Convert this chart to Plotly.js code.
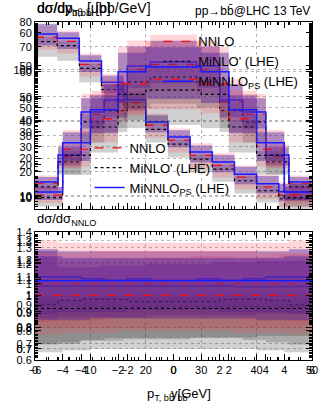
<!DOCTYPE html>
<html><head><meta charset="utf-8">
<script src="https://cdn.plot.ly/plotly-3.0.1.min.js"></script>
<style>html,body{margin:0;padding:0;background:#fff}#chart{width:324px;height:406px}</style>
</head><body><div id="chart"></div>
<script>
// ---------- data ----------
// plot 1: transverse momentum of the b-bbar pair
const ptEdges = [0,4,8,12,16,20,24,28,32,36,40,44,50];
const ptNNLO   = [182,169,111,75.5,54.7,36.4,27.7,21.0,17.5,14.1,11.8,10.2];
const ptMiNLO  = [168,156,103,70.0,50.8,33.8,25.8,19.6,16.3,13.2,11.0,9.5];
const ptMiNNLO = [193,179,118,80.0,58.0,38.6,29.4,22.3,18.6,14.9,12.5,10.8];
const ptNNLOLo   = [0.80,0.80,0.80,0.80,0.80,0.80,0.80,0.80,0.80,0.80,0.80,0.80];
const ptNNLOHi   = [1.24,1.22,1.22,1.23,1.23,1.24,1.24,1.25,1.25,1.24,1.24,1.26];
const ptMiNLOLo  = [0.70,0.70,0.72,0.72,0.73,0.73,0.73,0.74,0.74,0.74,0.75,0.75];
const ptMiNLOHi  = [1.00,1.00,1.00,1.00,1.01,1.01,1.01,1.01,1.01,1.02,1.02,1.02];
const ptMiNNLOLo = [0.86,0.87,0.87,0.87,0.87,0.88,0.88,0.88,0.88,0.88,0.89,0.89];
const ptMiNNLOHi = [1.28,1.18,1.18,1.19,1.19,1.20,1.20,1.20,1.21,1.21,1.22,1.22];

// plot 2: rapidity of the b-bbar pair (|y| < 6)
const yEdges = [-6,-5,-4,-3,-2,-1,0,1,2,3,4,5,6];
const yNNLO   = [15.5,26.0,43.0,48.0,61.0,63.0,63.0,61.0,48.0,43.0,26.0,15.5];
const yMiNLO  = [14.0,24.0,40.0,44.5,56.0,58.0,58.0,56.0,44.5,40.0,24.0,14.0];
const yMiNNLO = [16.0,26.8,44.0,48.8,62.4,64.0,64.0,62.4,48.8,44.0,26.8,16.0];
const yNNLOLo   = [0.82,0.83,0.83,0.84,0.84,0.84,0.84,0.84,0.84,0.83,0.83,0.82];
const yNNLOHi   = [1.20,1.19,1.19,1.19,1.19,1.19,1.19,1.19,1.19,1.19,1.19,1.20];
const yMiNLOLo  = [0.72,0.73,0.74,0.75,0.75,0.75,0.75,0.75,0.75,0.74,0.73,0.72];
const yMiNLOHi  = [1.00,1.00,1.00,1.00,1.00,1.00,1.00,1.00,1.00,1.00,1.00,1.00];
const yMiNNLOLo = [0.86,0.87,0.87,0.87,0.88,0.88,0.88,0.88,0.87,0.87,0.87,0.86];
const yMiNNLOHi = [1.16,1.15,1.15,1.15,1.15,1.15,1.15,1.15,1.15,1.15,1.15,1.16];

// plot 3: rapidity of the b-bbar pair (|y| < 5)
const y5Edges = [-5,-4,-3,-2,-1,0,1,2,3,4,5];
const y5NNLO   = [10.9,24.7,34.0,44.6,46.0,46.0,44.6,34.0,24.7,10.9];
const y5MiNLO  = [10.1,22.9,31.5,41.4,42.7,42.7,41.4,31.5,22.9,10.1];
const y5MiNNLO = [11.8,26.7,36.7,48.2,49.7,49.7,48.2,36.7,26.7,11.8];
const y5NNLOLo   = [0.78,0.79,0.79,0.80,0.80,0.80,0.80,0.79,0.79,0.78];
const y5NNLOHi   = [1.24,1.24,1.25,1.25,1.25,1.25,1.25,1.25,1.24,1.24];
const y5MiNLOLo  = [0.68,0.69,0.70,0.70,0.70,0.70,0.70,0.70,0.69,0.68];
const y5MiNLOHi  = [0.98,0.98,0.99,0.99,0.99,0.99,0.99,0.99,0.98,0.98];
const y5MiNNLOLo = [0.86,0.86,0.87,0.87,0.87,0.87,0.87,0.87,0.86,0.86];
const y5MiNNLOHi = [1.22,1.21,1.21,1.21,1.21,1.21,1.21,1.21,1.21,1.22];

const logTicks = [10,20,30,40,50,100];
const seriesNames = ['NNLO', "MiNLO' (LHE)", 'MiNNLO<sub>PS</sub> (LHE)'];

// ---------- helpers ----------
function step(edges, vals){
  const x=[], y=[];
  for(let i=0;i<vals.length;i++){ x.push(edges[i],edges[i+1]); y.push(vals[i],vals[i]); }
  return {x,y};
}
function bandPoly(edges, lo, hi){
  const u=step(edges,hi), l=step(edges,lo);
  return {x:u.x.concat(l.x.slice().reverse()), y:u.y.concat(l.y.slice().reverse())};
}
const mul=(a,b)=>a.map((v,i)=>v*b[i]);
const div=(a,b)=>a.map((v,i)=>v/b[i]);

const colNNLO='rgba(255,70,80,0.22)';
const colMiNLO='rgba(40,40,40,0.22)';
const colMiNNLO='rgba(70,30,160,0.42)';

function addPlot(traces, d, xt, yt, xb, yb, legendId){
  const bands=[[d.minloLo,d.minloHi,colMiNLO],[d.nnloLo,d.nnloHi,colNNLO],[d.minnloLo,d.minnloHi,colMiNNLO]];
  for(const [lo,hi,col] of bands){
    const p=bandPoly(d.edges, mul(d.nnlo,lo), mul(d.nnlo,hi));
    traces.push({x:p.x,y:p.y,xaxis:xt,yaxis:yt,fill:'toself',fillcolor:col,line:{width:0},mode:'lines',hoverinfo:'skip',showlegend:false});
    const pr=bandPoly(d.edges, lo, hi);
    traces.push({x:pr.x,y:pr.y,xaxis:xb,yaxis:yb,fill:'toself',fillcolor:col,line:{width:0},mode:'lines',hoverinfo:'skip',showlegend:false});
  }
  const lines=[[d.nnlo,{color:'#ee1111',width:1.3,dash:'dash'}],[d.minlo,{color:'#000',width:1.2,dash:'dot'}],[d.minnlo,{color:'#1a1aff',width:1.5}]];
  lines.forEach(([v,ln],k)=>{
    const s=step(d.edges,v);
    const tr={x:s.x,y:s.y,xaxis:xt,yaxis:yt,mode:'lines',line:ln,name:seriesNames[k],showlegend:!!legendId};
    if(legendId) tr.legend=legendId;
    traces.push(tr);
    const r=step(d.edges,div(v,d.nnlo));
    traces.push({x:r.x,y:r.y,xaxis:xb,yaxis:yb,mode:'lines',line:ln,showlegend:false});
  });
}

const traces=[];
addPlot(traces,{edges:ptEdges,nnlo:ptNNLO,minlo:ptMiNLO,minnlo:ptMiNNLO,nnloLo:ptNNLOLo,nnloHi:ptNNLOHi,minloLo:ptMiNLOLo,minloHi:ptMiNLOHi,minnloLo:ptMiNNLOLo,minnloHi:ptMiNNLOHi},'x4','y4','x','y','legend');
addPlot(traces,{edges:yEdges,nnlo:yNNLO,minlo:yMiNLO,minnlo:yMiNNLO,nnloLo:yNNLOLo,nnloHi:yNNLOHi,minloLo:yMiNLOLo,minloHi:yMiNLOHi,minnloLo:yMiNNLOLo,minnloHi:yMiNNLOHi},'x5','y5','x2','y2','legend2');
addPlot(traces,{edges:y5Edges,nnlo:y5NNLO,minlo:y5MiNLO,minnlo:y5MiNNLO,nnloLo:y5NNLOLo,nnloHi:y5NNLOHi,minloLo:y5MiNLOLo,minloHi:y5MiNLOHi,minnloLo:y5MiNNLOLo,minnloHi:y5MiNNLOHi},'x6','y6','x3','y3',null);

// ---------- layout ----------
const F='"Liberation Sans", Arial, sans-serif';
const tickFont={family:F,size:11,color:'#000'};
const topDom=[0.447,1], botDom=[0,0.379];
function ax(extra){
  return Object.assign({showline:true,linecolor:'#000',linewidth:1,mirror:'allticks',ticks:'inside',ticklen:6,tickwidth:1,tickcolor:'#000',
    showgrid:true,gridcolor:'#b8b8b8',griddash:'dot',gridwidth:1,zeroline:false,tickfont:tickFont,
    minor:{ticks:'inside',ticklen:3,tickcolor:'#000',nticks:5,showgrid:false}},extra);
}
const layout={
  width:324,height:406,margin:{l:35,r:12,t:22,b:46},paper_bgcolor:'#fff',plot_bgcolor:'#fff',
  font:{family:F,color:'#000'},
  xaxis: ax({domain:[0,1],anchor:'y',range:[0,50],dtick:10}),
  xaxis2:ax({overlaying:'x',anchor:'y',range:[-6,6],dtick:2,showgrid:false}),
  xaxis3:ax({overlaying:'x',anchor:'y',range:[-5,5],dtick:2,showgrid:false}),
  xaxis4:ax({domain:[0,1],anchor:'y4',range:[0,50],dtick:10,showticklabels:false}),
  xaxis5:ax({overlaying:'x4',anchor:'y4',range:[-6,6],dtick:2,showticklabels:false,showgrid:false}),
  xaxis6:ax({overlaying:'x4',anchor:'y4',range:[-5,5],dtick:2,showticklabels:false,showgrid:false}),
  yaxis: ax({domain:botDom,anchor:'x',range:[0.6,1.4],dtick:0.1}),
  yaxis2:ax({overlaying:'y',anchor:'x',range:[0.648,1.24],dtick:0.1}),
  yaxis3:ax({overlaying:'y',anchor:'x',range:[0.637,1.357],dtick:0.1,showgrid:false}),
  yaxis4:ax({domain:topDom,anchor:'x4',type:'log',range:[0.897,2.381],tickvals:logTicks,ticktext:logTicks.map(String),minor:{ticks:'inside',ticklen:3,tickcolor:'#000',showgrid:false}}),
  yaxis5:ax({overlaying:'y4',anchor:'x4',range:[5.2,80],dtick:10}),
  yaxis6:ax({overlaying:'y4',anchor:'x4',range:[6.7,63.3],dtick:10,showgrid:false}),
  legend:{x:0.445,y:0.987,xanchor:'left',yanchor:'top',bgcolor:'rgba(0,0,0,0)',font:{family:F,size:13},itemwidth:30,tracegroupgap:0},
  legend2:{x:0.197,y:0.672,xanchor:'left',yanchor:'top',bgcolor:'rgba(0,0,0,0)',font:{family:F,size:13},itemwidth:30,tracegroupgap:0},
  annotations:[
    {xref:'paper',yref:'paper',x:0,y:1.005,xanchor:'left',yanchor:'bottom',showarrow:false,text:'dσ/dp<sub>T,bb̄</sub> [pb/GeV]',font:{family:F,size:14}},
    {xref:'paper',yref:'paper',x:0,y:1.005,xanchor:'left',yanchor:'bottom',showarrow:false,text:'dσ/dy<sub>bb̄</sub> [μb]',font:{family:F,size:14}},
    {xref:'paper',yref:'paper',x:1,y:1.005,xanchor:'right',yanchor:'bottom',showarrow:false,text:'pp→bb̄@LHC 13 TeV',font:{family:F,size:12}},
    {xref:'paper',yref:'paper',x:0,y:0.384,xanchor:'left',yanchor:'bottom',showarrow:false,text:'dσ/dσ<sub>NNLO</sub>',font:{family:F,size:13}},
    {xref:'paper',yref:'paper',x:0.52,y:-0.072,xanchor:'center',yanchor:'top',showarrow:false,text:'p<sub>T, bb̄</sub> [GeV]',font:{family:F,size:13}},
    {xref:'paper',yref:'paper',x:0.52,y:-0.072,xanchor:'center',yanchor:'top',showarrow:false,text:'y<sub>bb̄</sub>',font:{family:F,size:13}}
  ]
};
Plotly.newPlot('chart',traces,layout,{staticPlot:true,displayModeBar:false});
</script></body></html>
